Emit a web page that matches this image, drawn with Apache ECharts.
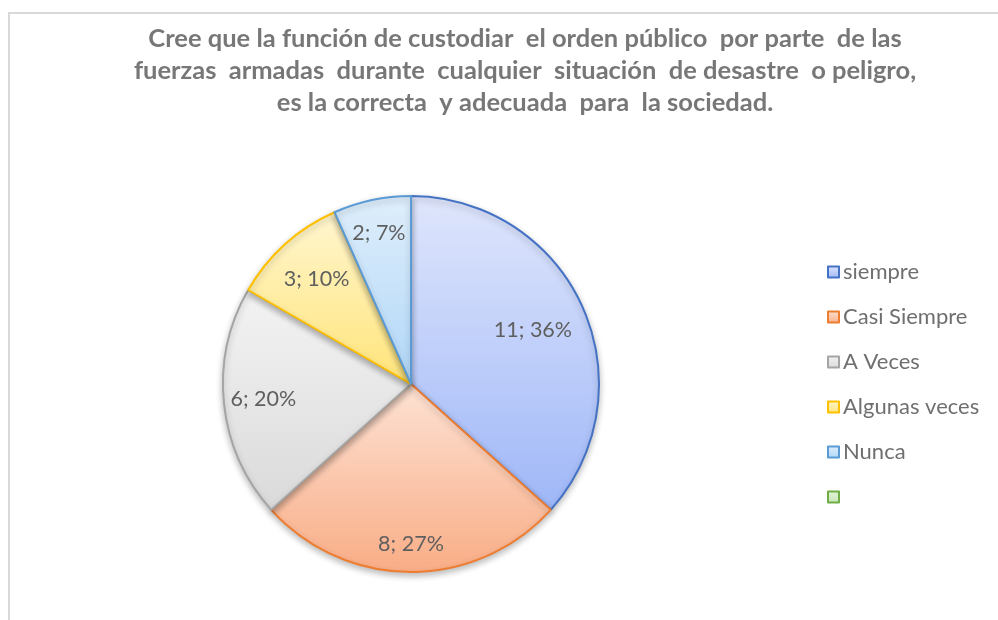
<!DOCTYPE html>
<html>
<head>
<meta charset="utf-8">
<script src="https://cdn.jsdelivr.net/npm/echarts@6/dist/echarts.min.js"></script>
<style>
html,body{margin:0;padding:0;background:#fff;}
#main{width:998px;height:620px;}
</style>
</head>
<body>
<div id="main"></div>
<script>
// ---- data ----
var categories = ['siempre', 'Casi Siempre', 'A Veces', 'Algunas veces', 'Nunca', ' '];
var values = [11, 8, 6, 3, 2, 0];
var percentLabels = ['36%', '27%', '20%', '10%', '7%', ''];
var titleText = 'Cree que la función de custodiar  el orden público  por parte  de las\nfuerzas  armadas  durante  cualquier  situación  de desastre  o peligro,\nes la correcta  y adecuada  para  la sociedad.';

// ---- styles ----
var borderColors = ['#4472c4', '#ed7d31', '#a5a5a5', '#ffc000', '#5b9bd5', '#70ad47'];
var topColors = ['#dfe6fc', '#fde2d4', '#f3f3f3', '#fff6cf', '#dfeefb', '#e4f3dc'];
var bottomColors = ['#9fb7f8', '#f9ad86', '#dadada', '#ffe479', '#b0d7f8', '#c6e7b6'];
var labelRadiusFrac = [0.71, 0.85, 0.79, 0.75, 0.82, 0.7];

var cx = 411, cy = 384, R = 188;

function grad(i) {
  return new echarts.graphic.LinearGradient(0, 0, 0, 1, [
    {offset: 0, color: topColors[i]},
    {offset: 1, color: bottomColors[i]}
  ]);
}

var total = values.reduce(function (a, b) { return a + b; }, 0);
var midAngles = [];
var acc = 0;
for (var i = 0; i < values.length; i++) {
  midAngles.push((acc + values[i] / 2) / total * 2 * Math.PI);
  acc += values[i];
}

var pieData = categories.map(function (name, i) {
  return {
    name: name,
    value: values[i],
    itemStyle: {
      color: grad(i),
      borderColor: borderColors[i],
      borderWidth: values[i] > 0 ? 2 : 0
    },
    label: {show: values[i] > 0}
  };
});

var legendData = categories.map(function (name, i) {
  return {
    name: name,
    icon: 'rect',
    itemStyle: {color: grad(i), borderColor: borderColors[i], borderWidth: 2}
  };
});

var chart = echarts.init(document.getElementById('main'), null, {renderer: 'canvas'});
chart.setOption({
  backgroundColor: '#ffffff',
  animation: false,
  title: {
    text: titleText,
    left: 520,
    textAlign: 'center',
    top: 18,
    textStyle: {
      fontFamily: 'Lato',
      fontWeight: 'bold',
      fontSize: 25.5,
      lineHeight: 32,
      color: '#777777'
    }
  },
  legend: {
    orient: 'vertical',
    left: 827,
    top: 261,
    padding: 0,
    itemWidth: 11,
    itemHeight: 11,
    itemGap: 23,
    selectedMode: false,
    data: legendData,
    textStyle: {
      fontFamily: 'Lato',
      fontSize: 22,
      lineHeight: 22,
      color: '#6f6f6f',
      padding: [0, 0, 0, -1]
    }
  },
  graphic: [
    {type: 'line', shape: {x1: 9, y1: 13, x2: 998, y2: 13}, style: {stroke: '#d9d9d9', lineWidth: 2}, silent: true},
    {type: 'line', shape: {x1: 9, y1: 12, x2: 9, y2: 620}, style: {stroke: '#d9d9d9', lineWidth: 2}, silent: true}
  ],
  series: [{
    type: 'pie',
    center: [cx, cy],
    radius: [0, R],
    startAngle: 90,
    clockwise: true,
    minAngle: 0,
    avoidLabelOverlap: false,
    silent: true,
    itemStyle: {
      shadowBlur: 6,
      shadowColor: 'rgba(0,0,0,0.25)',
      shadowOffsetY: 3
    },
    label: {
      show: true,
      position: 'inside',
      fontFamily: 'Lato',
      fontSize: 21.5,
      color: '#5f5f5f',
      formatter: function (p) {
        return p.value + '; ' + percentLabels[p.dataIndex];
      }
    },
    labelLine: {show: false},
    labelLayout: function (p) {
      var a = midAngles[p.dataIndex];
      var f = labelRadiusFrac[p.dataIndex];
      return {
        x: cx + f * R * Math.sin(a),
        y: cy - f * R * Math.cos(a),
        align: 'center',
        verticalAlign: 'middle'
      };
    },
    data: pieData
  }]
});
</script>
</body>
</html>
